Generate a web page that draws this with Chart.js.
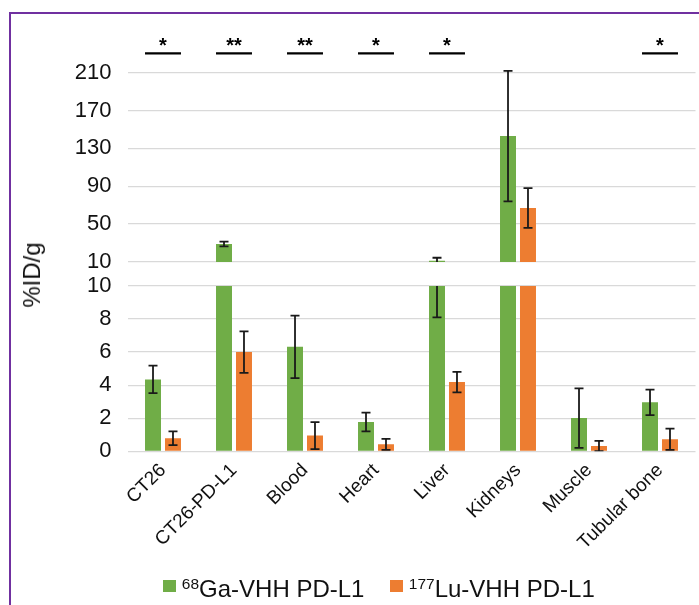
<!DOCTYPE html>
<html>
<head>
<meta charset="utf-8">
<script src="https://cdn.jsdelivr.net/npm/chart.js@4.4.1/dist/chart.umd.min.js"></script>
<style>
  body { margin: 0; background: #fff; font-family: 'Liberation Sans', Arial, sans-serif; }
  #wrap { position: relative; width: 699px; height: 605px; overflow: hidden; }
  #frame { position: absolute; left: 9px; top: 12px; width: 800px; height: 700px;
           border-top: 2px solid #7030a0; border-left: 2px solid #7030a0; }
  .layer { position: absolute; left: 0; top: 0; width: 699px; height: 605px; }
  #ytitle { position: absolute; left: 32px; top: 275px; font-size: 24px; line-height: 24px;
            color: #111; white-space: nowrap; transform: translate(-50%, -50%) rotate(-90deg); }
  .leg { position: absolute; top: 577px; font-size: 24px; line-height: 24px; color: #111; white-space: nowrap; }
  .leg .sw { position: absolute; left: 0; top: 2.5px; width: 12.5px; height: 12.5px; }
  .leg .txt { position: absolute; left: 18.5px; top: 0; }
  .leg .sup { font-size: 15.5px; position: relative; top: -8px; }
</style>
</head>
<body>
<div id="wrap">
  <div id="frame"></div>
  <div class="layer"><canvas id="upperChart"></canvas></div>
  <div class="layer"><canvas id="lowerChart"></canvas></div>
  <div id="ytitle">%ID/g</div>
  <div id="legend"></div>
</div>
<script>
const categories = ['CT26', 'CT26-PD-L1', 'Blood', 'Heart', 'Liver', 'Kidneys', 'Muscle', 'Tubular bone'];
const gaValues = [4.35, 29, 6.32, 1.77, 11.3, 143, 2.01, 2.96];
const gaErrors = [0.83, 2.5, 1.89, 0.57, 3.2, 69, 1.8, 0.77];
const luValues = [0.79, 6.0, 0.95, 0.42, 4.19, 67, 0.32, 0.73];
const luErrors = [0.42, 1.26, 0.82, 0.33, 0.62, 21, 0.31, 0.64];
const upperTicks = [10, 50, 90, 130, 170, 210];
const lowerTicks = [0, 2, 4, 6, 8, 10];
const sigMarks = ['*', '**', '**', '*', '*', '', '', '*'];
const seriesNames = [['68', 'Ga-VHH PD-L1'], ['177', 'Lu-VHH PD-L1']];

const GREEN = '#70ad47';
const ORANGE = '#ed7d31';
const GRID = '#d9d9d9';

Chart.defaults.font.family = "'Liberation Sans', Arial, sans-serif";
Chart.defaults.color = '#111';

// error bars drawn from the bar elements and the y scale
const errorBars = {
    id: 'errorBars',
    afterDatasetsDraw(chart, args, opts) {
        const ctx = chart.ctx;
        const area = chart.chartArea;
        const yScale = chart.scales.y;
        ctx.save();
        ctx.beginPath();
        ctx.rect(area.left, area.top - opts.overTop, area.right - area.left, area.bottom - area.top + opts.overTop);
        ctx.clip();
        ctx.strokeStyle = '#1a1a1a';
        ctx.lineWidth = 1.8;
        chart.data.datasets.forEach((ds, di) => {
            const meta = chart.getDatasetMeta(di);
            meta.data.forEach((bar, i) => {
                const v = ds.data[i], e = ds.errors[i];
                const yHi = yScale.getPixelForValue(v + e);
                const yLo = yScale.getPixelForValue(v - e);
                ctx.beginPath();
                ctx.moveTo(bar.x, yHi); ctx.lineTo(bar.x, yLo);
                ctx.moveTo(bar.x - 4.5, yHi); ctx.lineTo(bar.x + 4.5, yHi);
                ctx.moveTo(bar.x - 4.5, yLo); ctx.lineTo(bar.x + 4.5, yLo);
                ctx.stroke();
            });
        });
        ctx.restore();
    }
};

// significance marks above each bar pair
const sigPlugin = {
    id: 'sigMarks',
    afterDraw(chart) {
        const ctx = chart.ctx;
        const g = chart.getDatasetMeta(0).data;
        const o = chart.getDatasetMeta(1).data;
        ctx.save();
        ctx.fillStyle = '#000';
        ctx.strokeStyle = '#000';
        ctx.lineWidth = 2.3;
        ctx.font = "bold 20px 'Liberation Sans', Arial, sans-serif";
        ctx.textAlign = 'center';
        ctx.textBaseline = 'alphabetic';
        sigMarks.forEach((m, i) => {
            if (!m) return;
            const x0 = g[i].x - g[i].width / 2;
            const x1 = o[i].x + o[i].width / 2;
            ctx.beginPath();
            ctx.moveTo(x0, 53.3); ctx.lineTo(x1, 53.3);
            ctx.stroke();
            ctx.fillText(m, (x0 + x1) / 2, 51.5);
        });
        ctx.restore();
    }
};

const makeDatasets = () => [
    { label: seriesNames[0].join(''), data: gaValues, errors: gaErrors, backgroundColor: GREEN,
      categoryPercentage: 0.563, barPercentage: 0.8 },
    { label: seriesNames[1].join(''), data: luValues, errors: luErrors, backgroundColor: ORANGE,
      categoryPercentage: 0.563, barPercentage: 0.8 }
];

const yAxis = (min, max, ticks) => ({
    min: min,
    max: max,
    afterBuildTicks: scale => { scale.ticks = ticks.map(v => ({ value: v })); },
    afterFit: scale => { scale.width = 127.5; scale.paddingTop = 0; scale.paddingBottom = 0; },
    grid: { color: GRID, lineWidth: 1.3, drawTicks: false },
    border: { display: false },
    ticks: { font: { size: 22 }, color: '#111', padding: 16 }
});

new Chart(document.getElementById('upperChart'), {
    type: 'bar',
    data: { labels: categories, datasets: makeDatasets() },
    options: {
        responsive: true,
        maintainAspectRatio: false,
        animation: false,
        layout: { padding: { top: 68.9, bottom: 343, left: 0, right: 3.5 } },
        scales: {
            x: { display: false },
            y: yAxis(10, 214, upperTicks)
        },
        plugins: { legend: { display: false }, tooltip: { enabled: false }, errorBars: { overTop: 10 } }
    },
    plugins: [errorBars, sigPlugin]
});

new Chart(document.getElementById('lowerChart'), {
    type: 'bar',
    data: { labels: categories, datasets: makeDatasets() },
    options: {
        responsive: true,
        maintainAspectRatio: false,
        animation: false,
        layout: { padding: { top: 286, bottom: 0, left: 0, right: 3.5 } },
        scales: {
            x: {
                afterFit: scale => { scale.height = 153.7; scale.paddingLeft = 0; scale.paddingRight = 0; },
                grid: { display: false, drawTicks: false },
                border: { display: false },
                ticks: { font: { size: 19 }, color: '#111', minRotation: 45, maxRotation: 45, padding: 8 }
            },
            y: yAxis(0, 10, lowerTicks)
        },
        plugins: { legend: { display: false }, tooltip: { enabled: false }, errorBars: { overTop: 0 } }
    },
    plugins: [errorBars]
});

const legendLeft = [163.3, 390.3];
document.getElementById('legend').innerHTML = seriesNames.map((n, i) => `
    <div class="leg" style="left:${legendLeft[i]}px">
        <span class="sw" style="background:${i === 0 ? GREEN : ORANGE}"></span>
        <span class="txt"><span class="sup">${n[0]}</span>${n[1]}</span>
    </div>
`).join('');
</script>
</body>
</html>
